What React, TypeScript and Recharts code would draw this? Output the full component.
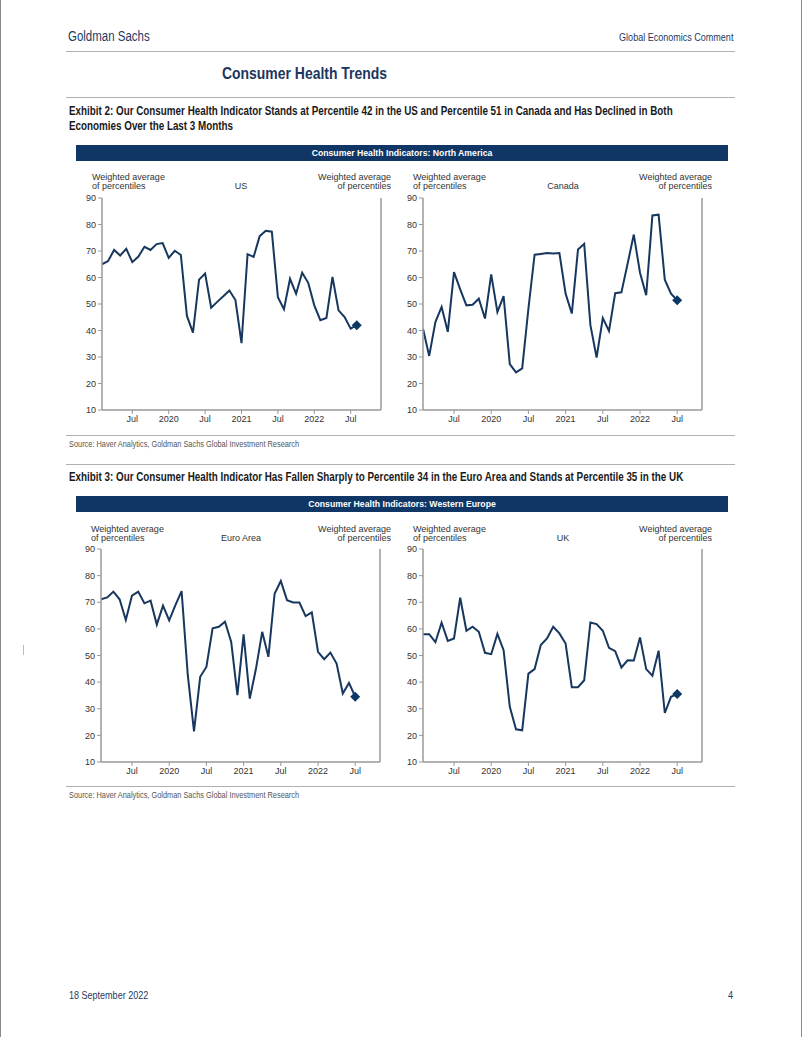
import React from "react";
import { LineChart, Line, XAxis, YAxis } from "recharts";

const months = [
  "2019-02","2019-03","2019-04","2019-05","2019-06","2019-07","2019-08","2019-09","2019-10","2019-11","2019-12",
  "2020-01","2020-02","2020-03","2020-04","2020-05","2020-06","2020-07","2020-08","2020-09","2020-10","2020-11","2020-12",
  "2021-01","2021-02","2021-03","2021-04","2021-05","2021-06","2021-07","2021-08","2021-09","2021-10","2021-11","2021-12",
  "2022-01","2022-02","2022-03","2022-04","2022-05","2022-06","2022-07","2022-08",
];

const xTickIdx = [5, 11, 17, 23, 29, 35, 41];
const xTickLabels = ["Jul", "2020", "Jul", "2021", "Jul", "2022", "Jul"];
const yTicks = [10, 20, 30, 40, 50, 60, 70, 80, 90];

const usValues = [65.0,66.2,70.4,68.3,70.8,65.8,67.9,71.6,70.4,72.6,73.0,67.4,70.1,68.5,45.5,39.2,59.2,61.5,48.6,50.8,52.9,55.1,51.5,35.2,68.8,67.8,75.6,77.6,77.3,52.6,48.0,59.5,53.9,61.8,58.0,49.5,43.9,44.7,60.2,47.6,45.1,40.7,42.0];
const canadaValues = [40.7,30.4,43.2,48.9,39.5,62.0,55.5,49.5,49.7,52.0,44.5,61.2,47.0,53.0,27.3,24.2,25.7,48.2,68.6,68.9,69.2,69.1,69.2,53.9,46.4,70.6,72.7,42.0,29.8,44.7,39.8,54.1,54.4,65.2,76.2,61.8,53.3,83.4,83.7,59.2,53.9,51.4];
const euroValues = [71.1,71.8,74.0,71.1,63.3,72.5,74.0,69.6,70.6,61.6,68.7,63.2,68.9,74.2,42.6,21.5,42.0,45.7,60.2,60.8,62.7,55.1,35.1,57.9,33.8,45.1,58.9,49.5,73.2,78.0,70.8,69.9,69.9,64.8,66.2,51.4,48.6,51.1,47.0,35.7,39.7,34.5];
const ukValues = [58.0,58.0,55.0,62.3,55.5,56.4,71.7,59.3,60.8,58.9,51.0,50.5,58.1,52.0,30.7,22.3,21.9,43.2,44.9,53.9,56.4,60.8,58.3,54.5,38.1,38.1,40.7,62.4,61.8,59.3,52.9,51.6,45.5,48.2,48.1,56.8,44.9,42.4,51.8,28.4,34.5,35.5];

const SANS = "'Liberation Sans', Arial, sans-serif";
const NAVY = "#17375e";
const AXIS = "#9a9a9a";
const TXT = "#333333";
const SQUEEZE = 0.82;

function buildData(values: number[]) {
  return values.map((v, i) => ({ i, m: months[i], v }));
}

type PanelProps = {
  values: number[];
  xMax: number;
  left: number;
  top: number;
  plotH: number;
};

function Panel({ values, xMax, left, top, plotH }: PanelProps) {
  const data = buildData(values);
  const last = data.length - 1;
  const mt = 8;
  const leftW = 41;
  const rightW = 30;
  const xh = 25;
  const W = 350;
  const H = mt + plotH + xh;
  const renderDot = (p: any) => {
    if (p.index !== last) return <g key={`d${p.index}`} />;
    const s = 5;
    return (
      <path
        key={`d${p.index}`}
        d={`M${p.cx},${p.cy - s} L${p.cx + s},${p.cy} L${p.cx},${p.cy + s} L${p.cx - s},${p.cy} Z`}
        fill="#0b3866"
        stroke="none"
      />
    );
  };
  const tickStyle = { fill: TXT, fontSize: 9, fontFamily: SANS };
  return (
    <div style={{ position: "absolute", left, top, width: W, height: H }}>
      <LineChart width={W} height={H} data={data} margin={{ top: mt, right: 0, bottom: 0, left: 0 }}>
        <XAxis
          dataKey="i"
          type="number"
          domain={[0, xMax]}
          ticks={xTickIdx}
          tickFormatter={(v: number) => xTickLabels[xTickIdx.indexOf(v)] ?? ""}
          axisLine={{ stroke: AXIS, strokeWidth: 1.5 }}
          tickLine={{ stroke: AXIS }}
          tickSize={4}
          tick={tickStyle}
          height={xh}
          interval={0}
          allowDataOverflow
        />
        <YAxis
          yAxisId="left"
          orientation="left"
          domain={[10, 90]}
          ticks={yTicks}
          width={leftW}
          axisLine={{ stroke: AXIS, strokeWidth: 1.5 }}
          tickLine={{ stroke: AXIS }}
          tickSize={4}
          tick={tickStyle}
          interval={0}
        />
        <YAxis
          yAxisId="right"
          orientation="right"
          domain={[10, 90]}
          ticks={yTicks}
          width={rightW}
          axisLine={{ stroke: AXIS, strokeWidth: 1.5 }}
          tickLine={{ stroke: AXIS }}
          tickSize={4}
          tick={tickStyle}
          interval={0}
        />
        <Line
          yAxisId="left"
          dataKey="v"
          type="linear"
          stroke={NAVY}
          strokeWidth={2}
          dot={renderDot}
          activeDot={false}
          isAnimationActive={false}
        />
      </LineChart>
    </div>
  );
}

function Abs({ left, top, right, width, style, children }: any) {
  return (
    <div style={{ position: "absolute", left, top, right, width, whiteSpace: "nowrap", ...style }}>{children}</div>
  );
}

// condensed text: a narrow face is not installed, so squeeze Liberation Sans horizontally
function Narrow({ left, right, top, size, lh, bold, color, children }: any) {
  const alignRight = right !== undefined;
  return (
    <div
      style={{
        position: "absolute",
        left,
        right,
        top,
        whiteSpace: "nowrap",
        fontFamily: SANS,
        fontSize: size,
        lineHeight: `${lh}px`,
        fontWeight: bold ? "bold" : "normal",
        color,
        transform: `scaleX(${SQUEEZE})`,
        transformOrigin: alignRight ? "right top" : "left top",
        textAlign: alignRight ? "right" : "left",
      }}
    >
      {children}
    </div>
  );
}

function HLine({ y, x1 = 65, x2 = 734 }: { y: number; x1?: number; x2?: number }) {
  return <div style={{ position: "absolute", left: x1, top: y, width: x2 - x1, height: 1, background: "#b0b0b0" }} />;
}

function AxisTitles({ yTop, plotLeft, plotRight, title, centerX }: any) {
  const st = { fontFamily: SANS, fontSize: 9, color: TXT, lineHeight: "9px" };
  return (
    <>
      <Abs left={plotLeft - 10} top={yTop} style={st}>
        Weighted average
        <br />
        of percentiles
      </Abs>
      <Abs left={plotRight + 10 - 120} width={120} top={yTop} style={{ ...st, textAlign: "right" }}>
        Weighted average
        <br />
        of percentiles
      </Abs>
      <Abs left={centerX - 50} width={100} top={yTop + 9} style={{ ...st, textAlign: "center" }}>
        {title}
      </Abs>
    </>
  );
}

function Banner({ top, text }: { top: number; text: string }) {
  return (
    <div
      style={{
        position: "absolute",
        left: 75,
        top,
        width: 652,
        height: 16,
        background: "#0f3665",
        color: "#ffffff",
        fontFamily: SANS,
        fontWeight: "bold",
        fontSize: 8.7,
        lineHeight: "16px",
        textAlign: "center",
      }}
    >
      {text}
    </div>
  );
}

export default function App() {
  const off = 351;
  return (
    <div
      style={{
        position: "absolute",
        left: 0,
        top: 0,
        width: 802,
        height: 1037,
        background: "#ffffff",
        boxSizing: "border-box",
        borderLeft: "1px solid #8a8a8a",
        borderRight: "1px solid #8a8a8a",
        overflow: "hidden",
      }}
    >
      <Narrow left={67} top={28} size={14} lh={16} color="#1f3a5f">
        Goldman Sachs
      </Narrow>
      <Narrow right={68} top={31} size={11} lh={13} color="#1f3a5f">
        Global Economics Comment
      </Narrow>
      <HLine y={51} />
      <Narrow left={221} top={64} size={17} lh={20} bold color="#1b365d">
        Consumer Health Trends
      </Narrow>
      <HLine y={97} />

      <Narrow left={68} top={103.5} size={12} lh={15} bold color="#1a1a1a">
        Exhibit 2: Our Consumer Health Indicator Stands at Percentile 42 in the US and Percentile 51 in Canada and Has Declined in Both
        <br />
        Economies Over the Last 3 Months
      </Narrow>
      <Banner top={145} text="Consumer Health Indicators: North America" />
      <AxisTitles yTop={173} plotLeft={101} plotRight={380} title="US" centerX={240} />
      <AxisTitles yTop={173} plotLeft={422} plotRight={701} title="Canada" centerX={562} />
      <Panel values={usValues} xMax={46} left={60} top={190} plotH={212} />
      <Panel values={canadaValues} xMax={45} left={381} top={190} plotH={212} />
      <HLine y={435} />
      <Narrow left={68} top={439} size={9} lh={11} color="#555555">
        Source: Haver Analytics, Goldman Sachs Global Investment Research
      </Narrow>
      <HLine y={464} />

      <Narrow left={68} top={469.5} size={12} lh={15} bold color="#1a1a1a">
        Exhibit 3: Our Consumer Health Indicator Has Fallen Sharply to Percentile 34 in the Euro Area and Stands at Percentile 35 in the UK
      </Narrow>
      <Banner top={145 + off} text="Consumer Health Indicators: Western Europe" />
      <AxisTitles yTop={173 + off + 1} plotLeft={100} plotRight={380} title="Euro Area" centerX={240} />
      <AxisTitles yTop={173 + off + 1} plotLeft={422} plotRight={701} title="UK" centerX={562} />
      <Panel values={euroValues} xMax={45} left={59} top={541} plotH={213} />
      <Panel values={ukValues} xMax={45} left={381} top={541} plotH={213} />
      <HLine y={435 + off} />
      <Narrow left={68} top={439 + off} size={9} lh={11} color="#555555">
        Source: Haver Analytics, Goldman Sachs Global Investment Research
      </Narrow>

      <div style={{ position: "absolute", left: 22, top: 645, width: 1, height: 10, background: "#bbbbbb" }} />

      <Narrow left={68} top={989} size={11} lh={13} color="#1f3a5f">
        18 September 2022
      </Narrow>
      <Narrow right={68} top={989} size={11} lh={13} color="#1f3a5f">
        4
      </Narrow>
    </div>
  );
}
